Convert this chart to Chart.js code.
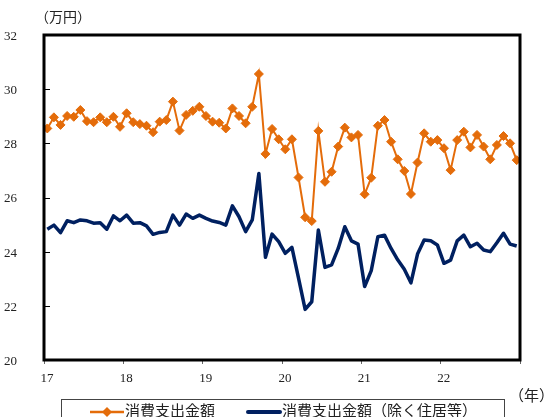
<!DOCTYPE html>
<html>
<head>
<meta charset="utf-8">
<script src="https://cdn.jsdelivr.net/npm/chart.js@4"></script>
<style>
  html, body { margin: 0; padding: 0; background: #fff; }
  #wrap { width: 549px; height: 417px; position: relative; }
</style>
</head>
<body>
<div id="wrap"><canvas id="c" width="549" height="417"></canvas></div>
<script>
// Monthly values, Jan 2017 – Dec 2022 (万円)
const yearLabels = ['17', '18', '19', '20', '21', '22'];
const spending = [
  28.55, 28.96, 28.68, 29.01, 28.98, 29.23, 28.82, 28.78, 28.96, 28.78, 28.98, 28.61,
  29.11, 28.78, 28.71, 28.65, 28.41, 28.80, 28.86, 29.54, 28.47, 29.05, 29.20, 29.35,
  29.01, 28.80, 28.76, 28.55, 29.29, 29.01, 28.74, 29.35, 30.56, 27.61, 28.53, 28.15,
  27.78, 28.15, 26.74, 25.27, 25.13, 28.46, 26.58, 26.95, 27.88, 28.58, 28.22, 28.31,
  26.12, 26.73, 28.65, 28.86, 28.06, 27.41, 26.98, 26.13, 27.29, 28.37, 28.06, 28.12,
  27.82, 27.01, 28.12, 28.43, 27.85, 28.31, 27.88, 27.41, 27.94, 28.27, 28.00, 27.38
];
const spendingExHousing = [
  24.83, 24.98, 24.70, 25.14, 25.07, 25.17, 25.14, 25.05, 25.07, 24.83, 25.32, 25.14,
  25.35, 25.05, 25.07, 24.95, 24.64, 24.71, 24.74, 25.35, 24.98, 25.39, 25.23, 25.35,
  25.23, 25.13, 25.08, 24.98, 25.69, 25.29, 24.74, 25.17, 26.89, 23.79, 24.65, 24.37,
  23.94, 24.16, 23.02, 21.87, 22.15, 24.80, 23.42, 23.51, 24.12, 24.92, 24.40, 24.28,
  22.71, 23.30, 24.55, 24.61, 24.12, 23.70, 23.35, 22.85, 23.91, 24.43, 24.40, 24.25,
  23.57, 23.69, 24.40, 24.61, 24.18, 24.31, 24.06, 24.00, 24.33, 24.68, 24.28, 24.21
];
const seriesNames = ['消費支出金額', '消費支出金額（除く住居等）'];
const unitLabel = '（万円）';
const xUnitLabel = '（年）';

const ORANGE = '#E46C0A';
const NAVY = '#002060';
const FONT = "'Liberation Serif', 'Noto Sans CJK JP', serif";

// each month sits in the middle of its slot on a 0–72 month axis
const toPoints = arr => arr.map((v, i) => ({ x: i + 0.5, y: v }));

const framePlugin = {
  id: 'frame',
  afterDatasetsDraw(chart) {
    const { ctx, chartArea: a, scales: { y } } = chart;
    ctx.save();
    // inward tick marks on the value axis
    ctx.strokeStyle = '#000';
    ctx.lineWidth = 1;
    for (let v = 20; v <= 32; v += 2) {
      const py = Math.round(y.getPixelForValue(v)) + 0.5;
      ctx.beginPath();
      ctx.moveTo(a.left, py);
      ctx.lineTo(a.left + 6, py);
      ctx.stroke();
    }
    // heavy frame around the plot
    ctx.lineWidth = 3;
    ctx.strokeRect(a.left, a.top, a.right - a.left, a.bottom - a.top);
    ctx.restore();
  },
  afterDraw(chart) {
    const { ctx } = chart;
    ctx.save();
    ctx.fillStyle = '#222';
    ctx.textBaseline = 'middle';
    ctx.font = "14px " + FONT;
    ctx.textAlign = 'left';
    ctx.fillText(unitLabel, 35, 18);
    ctx.font = "15px " + FONT;
    ctx.fillText(xUnitLabel, 509, 397);

    // legend box
    ctx.strokeStyle = '#444';
    ctx.lineWidth = 1;
    ctx.strokeRect(61.5, 399.5, 443, 40);

    const ly = 412;
    // orange entry: line with a diamond marker
    ctx.strokeStyle = ORANGE;
    ctx.lineWidth = 2.5;
    ctx.beginPath(); ctx.moveTo(90, ly); ctx.lineTo(124, ly); ctx.stroke();
    ctx.fillStyle = ORANGE;
    ctx.beginPath();
    ctx.moveTo(107, ly - 5); ctx.lineTo(112, ly); ctx.lineTo(107, ly + 5); ctx.lineTo(102, ly);
    ctx.closePath(); ctx.fill();
    // navy entry: heavy line
    ctx.strokeStyle = NAVY;
    ctx.lineWidth = 4;
    ctx.lineCap = 'round';
    ctx.beginPath(); ctx.moveTo(248, ly); ctx.lineTo(280, ly); ctx.stroke();

    ctx.fillStyle = '#222';
    ctx.font = "15px " + FONT;
    ctx.fillText(seriesNames[0], 125, ly);
    ctx.fillText(seriesNames[1], 282, ly);
    ctx.restore();
  }
};

new Chart(document.getElementById('c'), {
  type: 'line',
  data: {
    datasets: [
      {
        label: seriesNames[0],
        data: toPoints(spending),
        borderColor: ORANGE,
        backgroundColor: ORANGE,
        borderWidth: 2,
        pointStyle: 'rectRot',
        pointRadius: 4.5,
        pointBorderWidth: 1,
        pointBorderColor: ORANGE,
        pointBackgroundColor: ORANGE,
        tension: 0
      },
      {
        label: seriesNames[1],
        data: toPoints(spendingExHousing),
        borderColor: NAVY,
        borderWidth: 3.5,
        pointRadius: 0,
        borderJoinStyle: 'round',
        tension: 0
      }
    ]
  },
  options: {
    responsive: false,
    animation: false,
    layout: { padding: { top: 35, right: 29, left: 0, bottom: 0 } },
    plugins: { legend: { display: false }, tooltip: { enabled: false } },
    scales: {
      x: {
        type: 'linear',
        min: 0,
        max: 72,
        afterBuildTicks(scale) {
          scale.ticks = [0, 12, 24, 36, 48, 60, 72].map(v => ({ value: v }));
        },
        afterFit(scale) { scale.height = 57; },
        grid: {
          display: true,
          drawOnChartArea: false,
          drawTicks: true,
          tickLength: 4,
          tickColor: '#666',
          lineWidth: 1
        },
        border: { display: false },
        ticks: {
          callback: v => yearLabels[v / 12] ?? '',
          font: { family: FONT, size: 13 },
          color: '#222',
          padding: 7,
          labelOffset: 3,
          maxRotation: 0
        }
      },
      y: {
        min: 20,
        max: 32,
        afterFit(scale) { scale.width = 44; },
        grid: { display: false },
        border: { display: false },
        ticks: {
          stepSize: 2,
          font: { family: FONT, size: 13 },
          color: '#222',
          padding: 19,
          labelOffset: 1.5
        }
      }
    }
  },
  plugins: [framePlugin]
});
</script>
</body>
</html>
